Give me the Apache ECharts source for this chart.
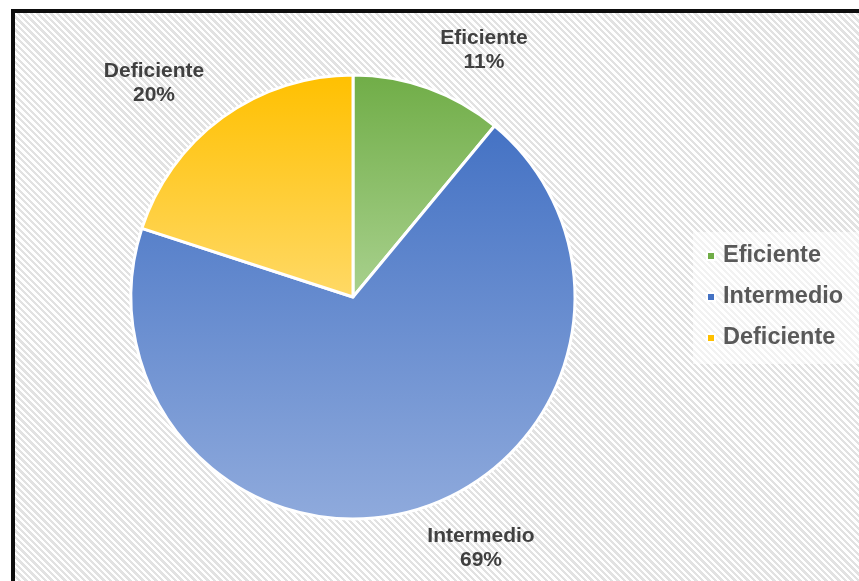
<!DOCTYPE html>
<html>
<head>
<meta charset="utf-8">
<script src="https://cdn.jsdelivr.net/npm/echarts@6/dist/echarts.min.js"></script>
<style>
  html, body { margin: 0; padding: 0; background: #ffffff; }
  #frame {
    position: absolute; left: 11px; top: 9px; width: 900px; height: 620px;
    border-left: 4px solid #0d0d0d; border-top: 4px solid #0d0d0d;
    background: repeating-linear-gradient(45deg, #ffffff 0px, #ffffff 2.3px, #e2e2e2 2.3px, #e2e2e2 4.6px);
  }
  #chart { position: absolute; left: 0; top: 0; width: 859px; height: 581px; }
</style>
</head>
<body>
<div id="frame"></div>
<div id="chart"></div>
<script>
const categories = ['Eficiente', 'Intermedio', 'Deficiente'];
const values = [11, 69, 20];

const gradients = [
  ['#70AD47', '#A9D18E'],
  ['#4472C4', '#8FAADC'],
  ['#FFC000', '#FFD966']
];
const labelPos = [[484, 50], [481, 548], [154, 83]];

const chart = echarts.init(document.getElementById('chart'), null, { renderer: 'canvas' });
const data = categories.map((name, i) => ({
  name: name,
  value: values[i],
  itemStyle: {
    color: new echarts.graphic.LinearGradient(0, 0, 0, 1, [
      { offset: 0, color: gradients[i][0] },
      { offset: 1, color: gradients[i][1] }
    ])
  }
}));

chart.setOption({
  backgroundColor: 'transparent',
  animation: false,
  color: gradients.map(g => g[0]),
  legend: {
    orient: 'vertical',
    left: 693,
    top: 232,
    width: 166,
    backgroundColor: 'rgba(255,255,255,0.55)',
    padding: [12, 30, 14, 13],
    itemWidth: 8,
    itemHeight: 8,
    itemGap: 17,
    icon: 'rect',
    data: categories.map((c, i) => ({ name: c, itemStyle: { color: gradients[i][0] } })),
    textStyle: {
      fontFamily: 'Liberation Sans, Arial, sans-serif',
      fontWeight: 'bold',
      fontSize: 23.5,
      lineHeight: 24,
      color: '#595959',
      padding: [0, 0, 0, 3]
    }
  },
  series: [{
    type: 'pie',
    center: [353, 297],
    radius: 222,
    startAngle: 90,
    clockwise: true,
    avoidLabelOverlap: false,
    itemStyle: { borderColor: '#ffffff', borderWidth: 3 },
    label: {
      show: true,
      position: 'outside',
      formatter: p => p.name + '\n' + Math.round(p.percent) + '%',
      fontFamily: 'Liberation Sans, Arial, sans-serif',
      fontWeight: 'bold',
      fontSize: 21,
      lineHeight: 24,
      color: '#404040',
      align: 'center'
    },
    labelLine: { show: false },
    labelLayout: function (params) {
      const p = labelPos[params.dataIndex];
      return { x: p[0], y: p[1], align: 'center', verticalAlign: 'middle' };
    },
    emphasis: { disabled: true },
    data: data
  }]
});
</script>
</body>
</html>
